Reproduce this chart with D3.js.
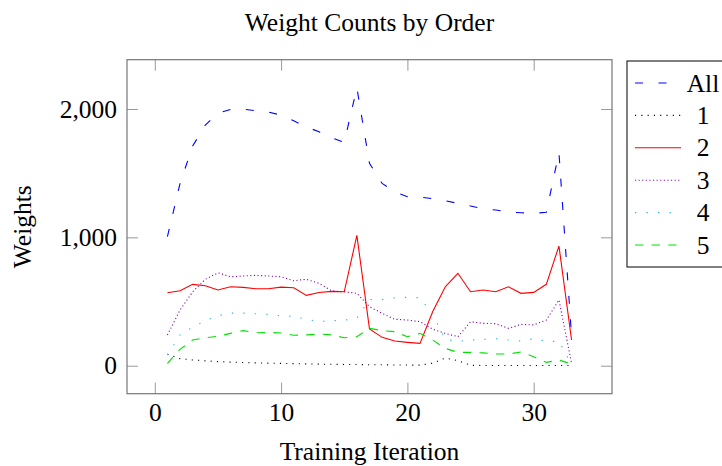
<!DOCTYPE html>
<html>
<head>
<meta charset="utf-8">
<script src="https://cdn.jsdelivr.net/npm/d3@7"></script>
<style>
  body { margin: 0; background: #fff; }
  text { font-family: "Liberation Serif", "Times New Roman", serif; fill: #000; }
</style>
</head>
<body>
<div id="chart"></div>
<script>
// ============
// Data
// ============
var iterations = [1, 2, 3, 4, 5, 6, 7, 8, 9, 10, 11, 12, 13, 14, 15, 16, 17,
  18, 19, 20, 21, 22, 23, 24, 25, 26, 27, 28, 29, 30, 31, 32, 33];

var allCounts = [1005, 1420, 1711, 1875, 1966, 1997, 1999, 1986, 1976, 1952, 1908,
  1861, 1822, 1776, 1740, 2165, 1576, 1420, 1355, 1316, 1313, 1301, 1285, 1265,
  1244, 1223, 1213, 1197, 1192, 1187, 1195, 1660, 230];

var order1 = [90, 55, 45, 38, 32, 28, 25, 22, 20, 18, 16, 14, 12, 11, 10, 9, 8,
  7, 6, 5, 5, 20, 60, 40, 3, 2, 2, 2, 2, 2, 2, 2, 2];

var order2 = [568, 584, 634, 623, 590, 615, 610, 600, 600, 612, 607, 548, 571, 579,
  576, 1015, 286, 221, 192, 182, 174, 421, 615, 720, 576, 590, 576, 615, 564, 571,
  634, 932, 200];

var order3 = [239, 434, 576, 673, 724, 693, 699, 704, 699, 693, 662, 673, 642, 584,
  576, 564, 460, 408, 362, 356, 343, 285, 252, 226, 343, 330, 328, 291, 322, 318,
  356, 512, 19];

var order4 = [83, 240, 300, 350, 390, 410, 410, 405, 400, 388, 385, 360, 345, 350,
  355, 370, 515, 517, 530, 533, 530, 400, 205, 190, 200, 205, 210, 200, 192, 210,
  190, 190, 10];

var order5 = [19, 128, 200, 218, 229, 252, 273, 257, 260, 255, 237, 240, 247, 240,
  218, 226, 291, 273, 265, 226, 252, 200, 135, 104, 104, 100, 91, 91, 107, 70,
  26, 44, 13];

var seriesNames = ["All", "1", "2", "3", "4", "5"];
var xTicks = [0, 10, 20, 30];
var yTicks = [0, 1000, 2000];

// series table built from the arrays above
var seriesList = [
  { name: seriesNames[0], values: allCounts, color: "#0000ff", dash: "8,15.5" },
  { name: seriesNames[1], values: order1, color: "#000000", dash: "1.1,5.2" },
  { name: seriesNames[2], values: order2, color: "#ff0000", dash: null },
  { name: seriesNames[3], values: order3, color: "#7d00a0", dash: "1.1,2.5" },
  { name: seriesNames[4], values: order4, color: "#28b4ee", dash: "1.3,10.2" },
  { name: seriesNames[5], values: order5, color: "#00e000", dash: "8.3,8.3" }
];

// ============
// Svg and plot area
// ============
var svgWidth = 722;
var svgHeight = 466;

var plot = { left: 127, right: 612, top: 59.7, bottom: 393.7 };

var svg = d3.select("#chart")
  .append("svg")
  .attr("width", svgWidth)
  .attr("height", svgHeight);

var fontSize = 25.5;

var xScale = d3.scaleLinear()
  .domain([-2.2, 36.2])
  .range([plot.left, plot.right]);

var yScale = d3.scaleLinear()
  .domain([-218, 2384])
  .range([plot.bottom, plot.top]);

// ============
// Lines
// ============
var line = d3.line()
  .x((d, i) => xScale(iterations[i]))
  .y(d => yScale(d));

svg.append("g")
  .selectAll("path")
  .data(seriesList)
  .enter()
  .append("path")
  .attr("d", d => line(d.values))
  .attr("fill", "none")
  .attr("stroke", d => d.color)
  .attr("stroke-width", 1.1)
  .attr("stroke-dasharray", d => d.dash);

// ============
// Axes (ticks pointing inwards, mirrored on top and right)
// ============
var tickLen = 11;

var bottomAxis = d3.axisBottom(xScale)
  .tickValues(xTicks)
  .tickSize(-tickLen)
  .tickPadding(9);

var topAxis = d3.axisTop(xScale)
  .tickValues(xTicks)
  .tickSize(-tickLen)
  .tickFormat("");

var leftAxis = d3.axisLeft(yScale)
  .tickValues(yTicks)
  .tickSize(-tickLen)
  .tickPadding(10)
  .tickFormat(d3.format(","));

var rightAxis = d3.axisRight(yScale)
  .tickValues(yTicks)
  .tickSize(-tickLen)
  .tickFormat("");

var axes = [
  svg.append("g").attr("transform", `translate(0, ${plot.bottom})`).call(bottomAxis),
  svg.append("g").attr("transform", `translate(0, ${plot.top})`).call(topAxis),
  svg.append("g").attr("transform", `translate(${plot.left}, 0)`).call(leftAxis),
  svg.append("g").attr("transform", `translate(${plot.right}, 0)`).call(rightAxis)
];

axes.forEach(function(g) {
  g.select(".domain").remove();
  g.selectAll(".tick line").attr("stroke", "#999").attr("stroke-width", 1);
  g.selectAll(".tick text")
    .attr("font-size", fontSize)
    .attr("font-family", "Liberation Serif, serif");
});

// frame
svg.append("rect")
  .attr("x", plot.left)
  .attr("y", plot.top)
  .attr("width", plot.right - plot.left)
  .attr("height", plot.bottom - plot.top)
  .attr("fill", "none")
  .attr("stroke", "#777")
  .attr("stroke-width", 1.2);

// ============
// Title and axis labels
// ============
svg.append("text")
  .attr("x", (plot.left + plot.right) / 2)
  .attr("y", 31)
  .attr("text-anchor", "middle")
  .attr("font-size", fontSize)
  .text("Weight Counts by Order");

svg.append("text")
  .attr("x", (plot.left + plot.right) / 2)
  .attr("y", 460)
  .attr("text-anchor", "middle")
  .attr("font-size", fontSize)
  .text("Training Iteration");

svg.append("text")
  .attr("transform", `translate(31, ${(plot.top + plot.bottom) / 2}) rotate(-90)`)
  .attr("text-anchor", "middle")
  .attr("font-size", fontSize)
  .text("Weights");

// ============
// Legend
// ============
var legend = svg.append("g");

legend.append("rect")
  .attr("x", 627)
  .attr("y", 61)
  .attr("width", 110)
  .attr("height", 206)
  .attr("fill", "#fff")
  .attr("stroke", "#000")
  .attr("stroke-width", 1);

var rowY = d3.scalePoint()
  .domain(seriesNames)
  .range([83, 245]);

var rows = legend.selectAll(".row")
  .data(seriesList)
  .enter()
  .append("g")
  .attr("class", "row")
  .attr("transform", d => `translate(0, ${rowY(d.name)})`);

rows.append("line")
  .attr("x1", 635)
  .attr("x2", 681)
  .attr("stroke", d => d.color)
  .attr("stroke-width", 1.1)
  .attr("stroke-dasharray", d => d.dash);

rows.append("text")
  .attr("x", 703)
  .attr("y", 8.5)
  .attr("text-anchor", "middle")
  .attr("font-size", fontSize)
  .text(d => d.name);
</script>
</body>
</html>
